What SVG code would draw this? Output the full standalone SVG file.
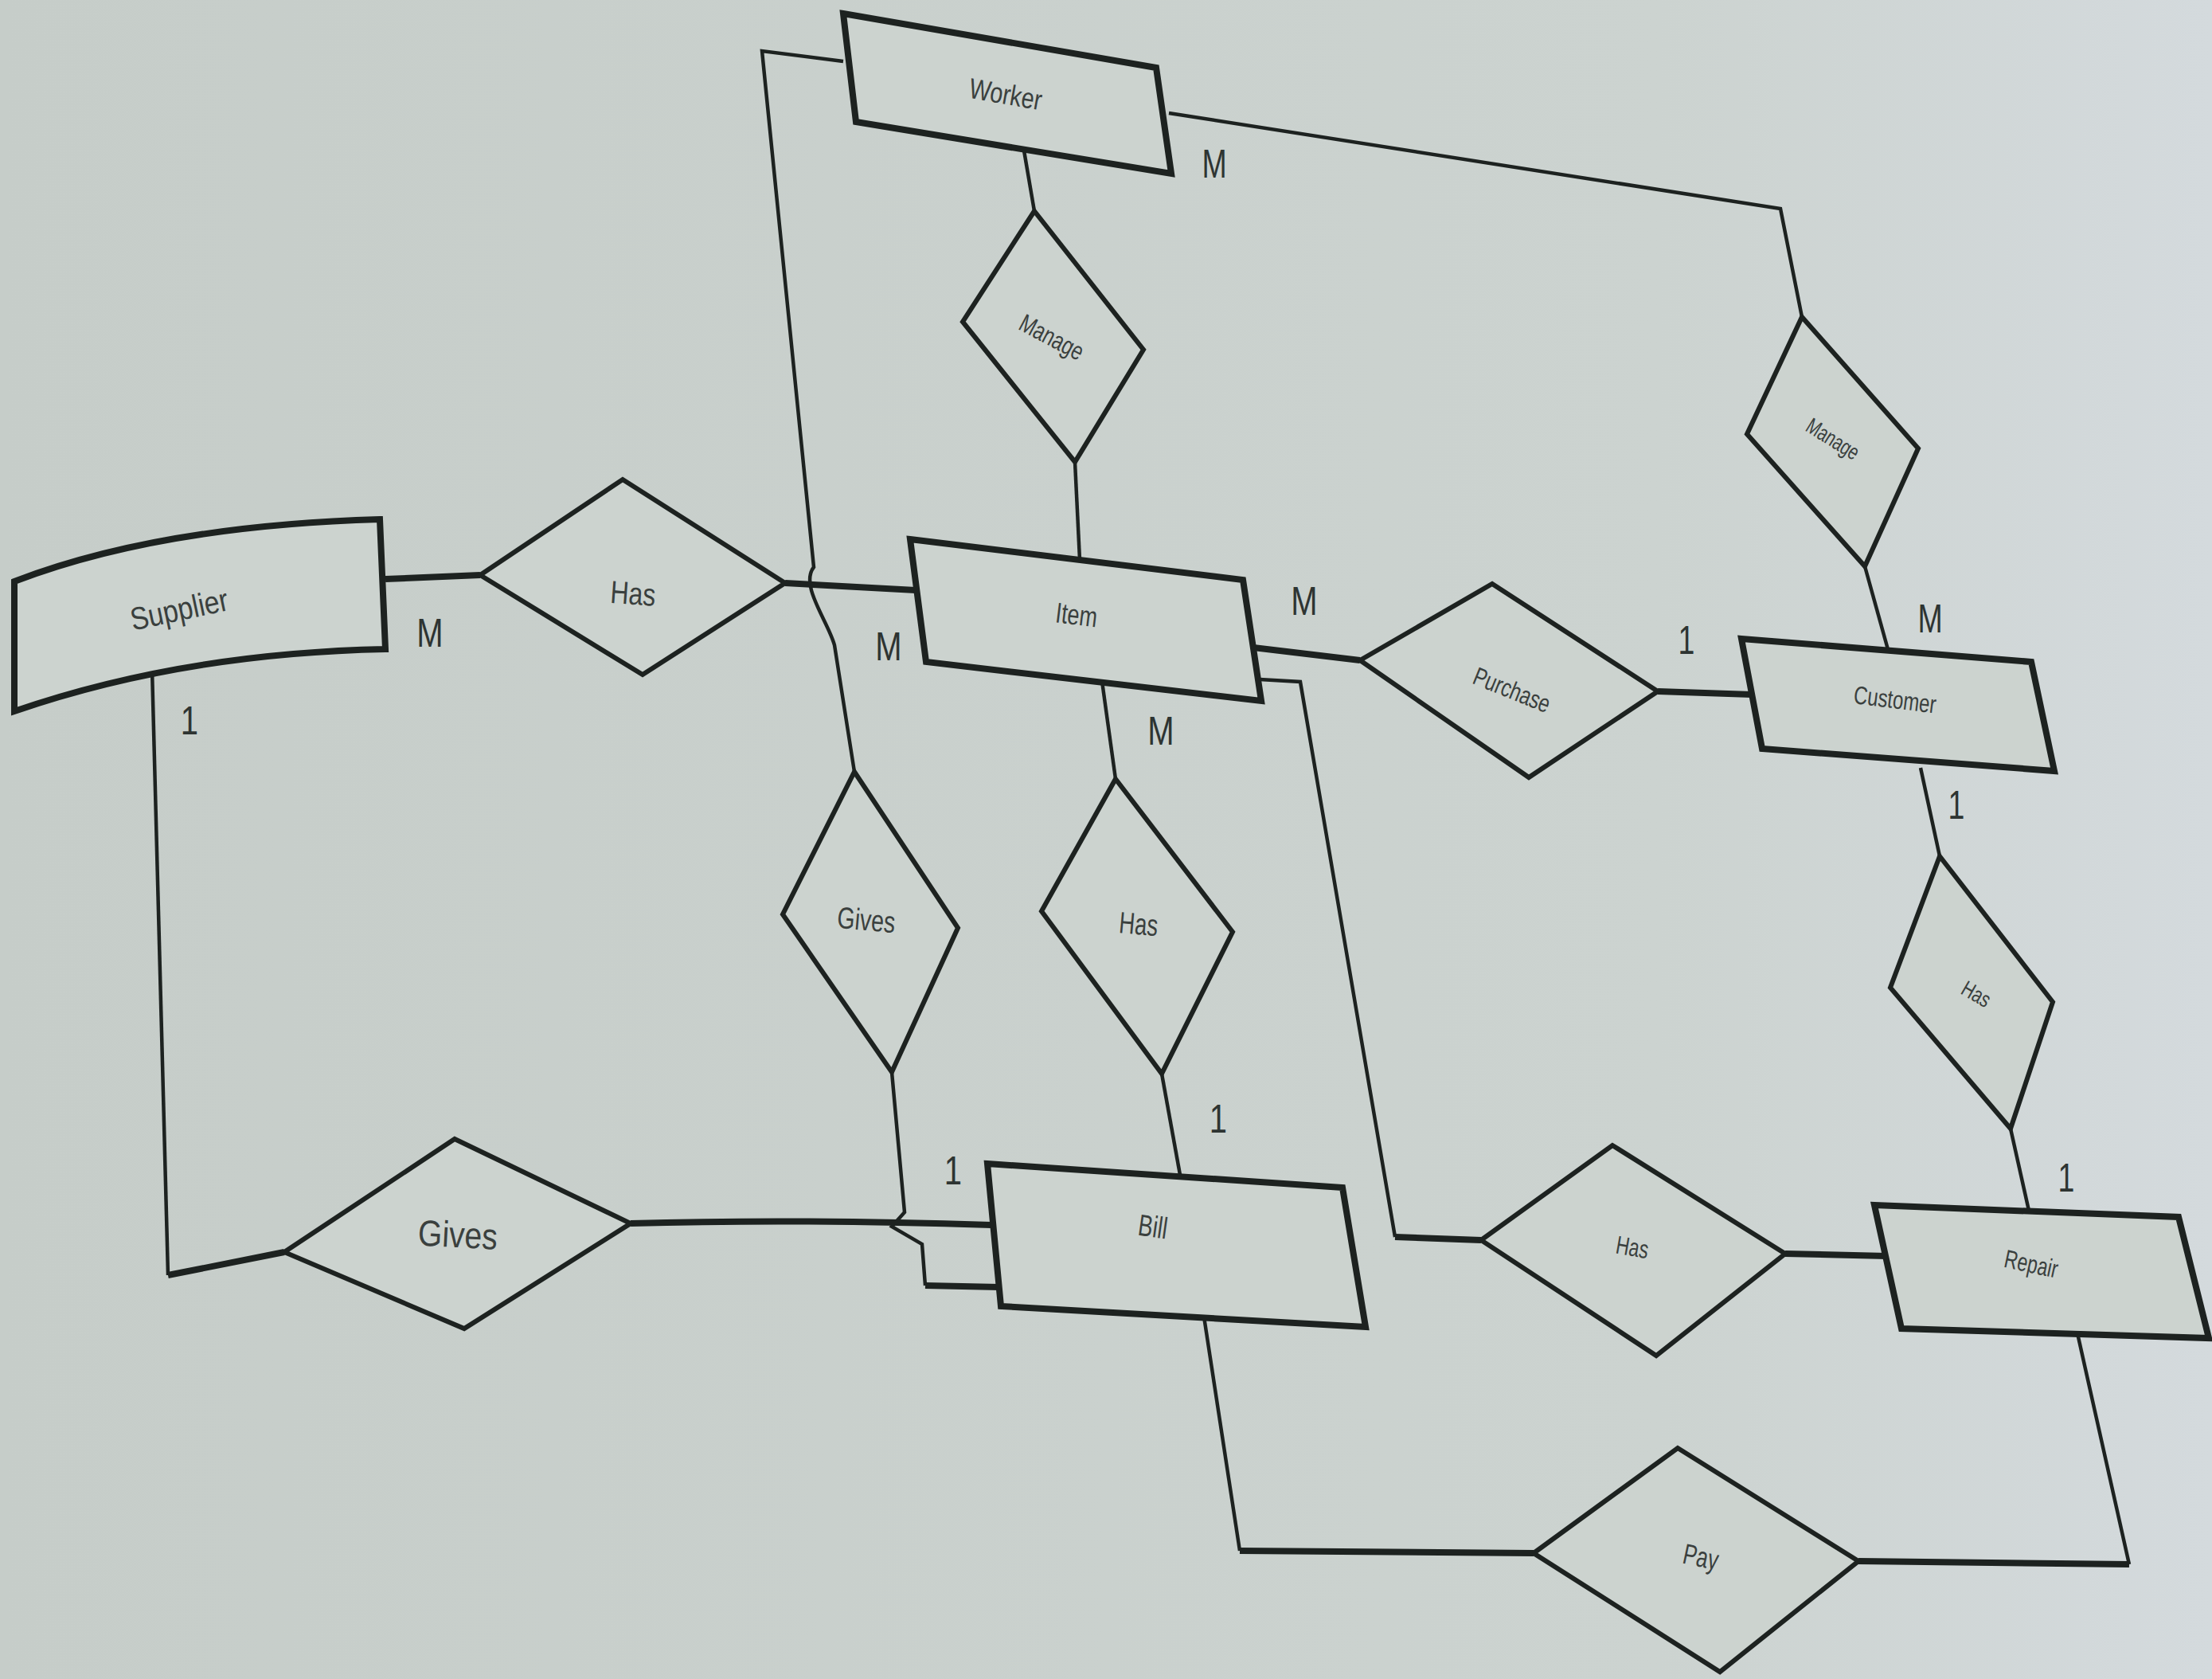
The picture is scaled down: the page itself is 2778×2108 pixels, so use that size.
<svg xmlns="http://www.w3.org/2000/svg" width="2778" height="2108" viewBox="0 0 2778 2108">
<defs>
<linearGradient id="bg" x1="0" y1="0" x2="1" y2="0">
<stop offset="0" stop-color="#c6cdc9"/>
<stop offset="0.75" stop-color="#ccd3d0"/>
<stop offset="1" stop-color="#d4dadd"/>
</linearGradient>
<style>
.ent{fill:#ccd3cf;stroke:#1d2220;stroke-width:8;stroke-linejoin:miter}
.rel{fill:#ccd3cf;stroke:#1d2220;stroke-width:6;stroke-linejoin:miter}
.ln{fill:none;stroke:#1d2220;stroke-width:4.5}
.lt{fill:none;stroke:#1d2220;stroke-width:8}
.t{font-family:"Liberation Sans Narrow","Liberation Sans",Arial,sans-serif;fill:#3a403e;text-anchor:middle;dominant-baseline:central}
.c{font-family:"Liberation Sans Narrow","Liberation Sans",Arial,sans-serif;fill:#2e3432;font-size:50px;text-anchor:middle;dominant-baseline:central}
</style>
</defs>
<rect width="2778" height="2108" fill="url(#bg)"/>

<g id="connectors">
<path class="ln" d="M1059,77 L957,64 L1022,712 C1004,735 1040,780 1048,810 L1073,969"/>
<path class="ln" d="M1286,189 L1299,265"/>
<path class="ln" d="M1350,580 L1356,703"/>
<path class="ln" d="M1468,142 L2236,262 L2263,398"/>
<path class="lt" d="M484,727 L603,722"/>
<path class="lt" d="M986,732 L1150,741"/>
<path class="lt" d="M1574,813 L1708,829"/>
<path class="lt" d="M2082,868 L2200,872"/>
<path class="ln" d="M2342,711 L2372,819"/>
<path class="ln" d="M2412,964 L2436,1075"/>
<path class="ln" d="M2525,1417 L2548,1520"/>
<path class="ln" d="M1383,848 L1401,978"/>
<path class="ln" d="M1459,1348 L1482,1475"/>
<path class="ln" d="M1582,853 L1633,856 L1752,1553"/>
<path class="lt" d="M1752,1553 L1860,1557"/>
<path class="lt" d="M2242,1574 L2370,1577"/>
<path class="ln" d="M1512,1653 L1557,1947"/>
<path class="lt" d="M1557,1947 L1926,1950"/>
<path class="lt" d="M2334,1960 L2674,1964"/>
<path class="ln" d="M2674,1964 L2609,1674"/>
<path class="ln" d="M1120,1346 L1136,1522 L1120,1540 L1158,1562 L1162,1614"/>
<path class="lt" d="M1162,1614 L1255,1616"/>
<path class="lt" d="M792,1536 Q1000,1530 1245,1538"/>
<path class="ln" d="M191,840 L211,1601"/>
<path class="lt" d="M211,1601 L357,1572"/>
</g>

<g id="worker">
<polygon class="ent" points="1059,17 1452,85 1471,218 1075,153"/>
<text class="t" font-size="36" transform="translate(1263,118) rotate(10) scale(0.8,1)">Worker</text>
</g>
<g id="manage-worker-item">
<polygon class="rel" points="1299,265 1436,439 1350,580 1209,404"/>
<text class="t" font-size="32" transform="translate(1321,423) rotate(28) scale(0.75,1)">Manage</text>
</g>
<g id="supplier">
<path class="ent" d="M18,730 Q200,660 477,652 L484,815 Q230,820 18,893 Z"/>
<text class="t" font-size="40" transform="translate(225,765) rotate(-12) scale(0.85,1)">Supplier</text>
</g>
<g id="has-supplier-item">
<polygon class="rel" points="603,722 782,602 986,732 807,847"/>
<text class="t" font-size="40" transform="translate(795,745) rotate(4) scale(0.8,1)">Has</text>
</g>
<g id="item">
<polygon class="ent" points="1143,677 1561,728 1584,880 1163,831"/>
<text class="t" font-size="36" transform="translate(1352,772) rotate(7) scale(0.75,1)">Item</text>
</g>
<g id="purchase">
<polygon class="rel" points="1708,829 1874,733 2082,868 1920,976"/>
<text class="t" font-size="32" transform="translate(1899,866) rotate(22) scale(0.75,1)">Purchase</text>
</g>
<g id="customer">
<polygon class="ent" points="2187,802 2551,831 2580,968 2213,940"/>
<text class="t" font-size="32" transform="translate(2380,878) rotate(7) scale(0.75,1)">Customer</text>
</g>
<g id="manage-worker-customer">
<polygon class="rel" points="2263,398 2409,563 2342,711 2194,545"/>
<text class="t" font-size="28" transform="translate(2302,551) rotate(32) scale(0.72,1)">Manage</text>
</g>
<g id="has-customer-repair">
<polygon class="rel" points="2436,1075 2578,1258 2525,1417 2374,1240"/>
<text class="t" font-size="28" transform="translate(2482,1248) rotate(30) scale(0.75,1)">Has</text>
</g>
<g id="repair">
<polygon class="ent" points="2354,1513 2736,1528 2774,1680 2388,1668"/>
<text class="t" font-size="32" transform="translate(2551,1587) rotate(12) scale(0.72,1)">Repair</text>
</g>
<g id="has-item-repair">
<polygon class="rel" points="1860,1557 2025,1438 2242,1574 2080,1702"/>
<text class="t" font-size="32" transform="translate(2050,1566) rotate(10) scale(0.72,1)">Has</text>
</g>
<g id="pay">
<polygon class="rel" points="1926,1950 2107,1818 2334,1960 2160,2099"/>
<text class="t" font-size="36" transform="translate(2136,1955) rotate(12) scale(0.72,1)">Pay</text>
</g>
<g id="bill">
<polygon class="ent" points="1240,1461 1686,1491 1715,1666 1257,1640"/>
<text class="t" font-size="38" transform="translate(1448,1540) rotate(8) scale(0.72,1)">Bill</text>
</g>
<g id="has-item-bill">
<polygon class="rel" points="1401,978 1548,1170 1459,1348 1308,1144"/>
<text class="t" font-size="38" transform="translate(1430,1160) rotate(5) scale(0.72,1)">Has</text>
</g>
<g id="gives-worker-bill">
<polygon class="rel" points="1073,969 1203,1165 1120,1346 983,1148"/>
<text class="t" font-size="38" transform="translate(1088,1155) rotate(5) scale(0.75,1)">Gives</text>
</g>
<g id="gives-supplier-bill">
<polygon class="rel" points="357,1572 571,1430 792,1536 583,1668"/>
<text class="t" font-size="46" transform="translate(575,1550) rotate(3) scale(0.85,1)">Gives</text>
</g>

<g id="labels">
<text class="c" transform="translate(1525,205) scale(0.75,1)">M</text>
<text class="c" transform="translate(540,795) scale(0.8,1)">M</text>
<text class="c" transform="translate(238,905) scale(0.8,1)">1</text>
<text class="c" transform="translate(1116,812) scale(0.8,1)">M</text>
<text class="c" transform="translate(1638,755) scale(0.8,1)">M</text>
<text class="c" transform="translate(1458,918) scale(0.8,1)">M</text>
<text class="c" font-size="42" transform="translate(2118,803) scale(0.75,1)">1</text>
<text class="c" font-size="42" transform="translate(2424,776) scale(0.75,1)">M</text>
<text class="c" font-size="42" transform="translate(2457,1010) scale(0.75,1)">1</text>
<text class="c" font-size="44" transform="translate(2595,1478) scale(0.75,1)">1</text>
<text class="c" transform="translate(1530,1405) scale(0.8,1)">1</text>
<text class="c" transform="translate(1197,1470) scale(0.8,1)">1</text>
</g>
</svg>
